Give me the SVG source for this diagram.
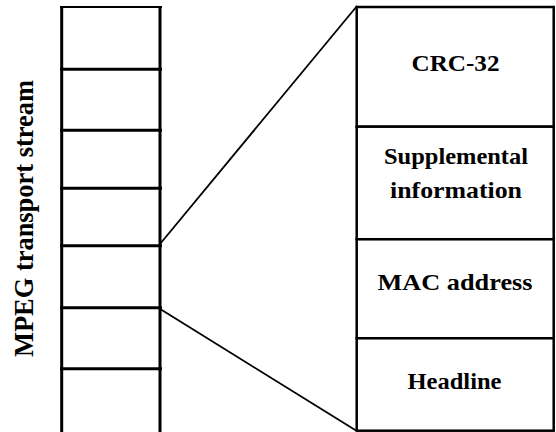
<svg xmlns="http://www.w3.org/2000/svg" width="556" height="432" viewBox="0 0 556 432">
<style>
.col{stroke:#000;stroke-width:3;fill:none}
.box{stroke:#000;stroke-width:2.5;fill:#fff}
.conn{stroke:#000;stroke-width:1.8;fill:none}
.lbl{font-family:"Liberation Serif","Times New Roman",serif;font-weight:bold;font-size:24px;fill:#000;text-anchor:middle}
.vlbl{font-size:28px}
</style>
<rect width="556" height="432" fill="#fff"/>
<g id="stream">
<line class="col" x1="61.7" y1="6" x2="61.7" y2="432"/>
<line class="col" x1="160" y1="6" x2="160" y2="432"/>
<line x1="60" y1="7" x2="162" y2="7" stroke="#000" stroke-width="2"/>
<line class="col" x1="60" y1="69.2" x2="162" y2="69.2"/>
<line class="col" x1="60" y1="130.2" x2="162" y2="130.2"/>
<line class="col" x1="60" y1="188.2" x2="162" y2="188.2"/>
<line class="col" x1="60" y1="245.8" x2="162" y2="245.8"/>
<line class="col" x1="60" y1="307.8" x2="162" y2="307.8"/>
<line class="col" x1="60" y1="368.7" x2="162" y2="368.7"/>
</g>
<g id="stream-label">
<text class="lbl vlbl" transform="translate(33,218.5) rotate(-90)" textLength="277" lengthAdjust="spacingAndGlyphs">MPEG transport stream</text>
</g>
<g id="connectors">
<line class="conn" x1="160" y1="244" x2="357" y2="6"/>
<line class="conn" x1="161" y1="309.5" x2="356" y2="430.5"/>
</g>
<g id="crc">
<rect class="box" x="356.7" y="7" width="197" height="119.7"/>
<text class="lbl" x="455.5" y="71" textLength="88" lengthAdjust="spacingAndGlyphs">CRC-32</text>
</g>
<g id="supplemental">
<rect class="box" x="356.7" y="126.7" width="197" height="112.6"/>
<text class="lbl" x="456" y="164" textLength="144" lengthAdjust="spacingAndGlyphs">Supplemental</text>
<text class="lbl" x="456" y="198" textLength="132" lengthAdjust="spacingAndGlyphs">information</text>
</g>
<g id="mac">
<rect class="box" x="356.7" y="239.3" width="197" height="99"/>
<text class="lbl" x="455" y="289.5" textLength="155" lengthAdjust="spacingAndGlyphs">MAC address</text>
</g>
<g id="headline">
<rect class="box" x="356.7" y="338.3" width="197" height="92.4"/>
<text class="lbl" x="454.5" y="389" textLength="94" lengthAdjust="spacingAndGlyphs">Headline</text>
</g>
</svg>
